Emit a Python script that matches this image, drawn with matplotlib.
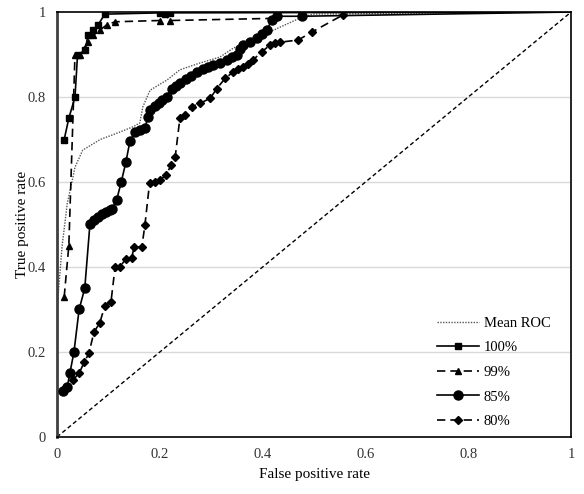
import matplotlib
matplotlib.use("Agg")
import matplotlib.pyplot as plt

plt.rcParams['font.family'] = ['Liberation Serif', 'DejaVu Serif']

mean_fpr = [0.0, 0.01, 0.02, 0.029, 0.035, 0.05, 0.084, 0.117, 0.148, 0.161, 0.167, 0.181, 0.214, 0.239,
            0.278, 0.317, 0.343, 0.375, 0.408, 0.473, 0.498, 1.0]
mean_tpr = [0.3, 0.45, 0.55, 0.6, 0.635, 0.675, 0.7, 0.715, 0.73, 0.739, 0.777, 0.816, 0.84, 0.864,
            0.88, 0.894, 0.915, 0.934, 0.95, 0.986, 0.995, 1.0]

r100_fpr = [0.014, 0.023, 0.035, 0.04, 0.055, 0.06, 0.07, 0.08, 0.093, 0.2, 0.21, 0.22, 1.0]
r100_tpr = [0.70, 0.75, 0.80, 0.90, 0.91, 0.945, 0.957, 0.97, 0.995, 0.998, 0.998, 0.998, 1.0]

r99_fpr = [0.014, 0.023, 0.035, 0.045, 0.06, 0.07, 0.083, 0.097, 0.113, 0.2, 0.21, 0.22, 0.42, 1.0]
r99_tpr = [0.33, 0.45, 0.90, 0.90, 0.93, 0.945, 0.957, 0.97, 0.977, 0.98, 0.995, 0.98, 0.985, 1.0]

r85_fpr = [0.012, 0.02, 0.025, 0.033, 0.043, 0.054, 0.064, 0.072, 0.08, 0.088, 0.096, 0.104, 0.107,
           0.116, 0.125, 0.134, 0.142, 0.152, 0.162, 0.171, 0.177, 0.181, 0.19, 0.198, 0.204, 0.213,
           0.224, 0.232, 0.239, 0.25, 0.26, 0.272, 0.283, 0.294, 0.304, 0.317, 0.33, 0.34, 0.35,
           0.356, 0.362, 0.375, 0.389, 0.398, 0.408, 0.418, 0.428, 0.477, 1.0]
r85_tpr = [0.108, 0.118, 0.15, 0.20, 0.30, 0.35, 0.50, 0.51, 0.518, 0.524, 0.53, 0.534, 0.536,
           0.558, 0.60, 0.647, 0.697, 0.718, 0.722, 0.727, 0.753, 0.77, 0.78, 0.787, 0.793, 0.80,
           0.82, 0.826, 0.833, 0.842, 0.85, 0.859, 0.865, 0.87, 0.875, 0.881, 0.887, 0.893, 0.90,
           0.912, 0.922, 0.93, 0.939, 0.948, 0.958, 0.981, 0.99, 0.99, 1.0]

r80_fpr = [0.012, 0.031, 0.043, 0.053, 0.062, 0.072, 0.083, 0.093, 0.105, 0.113, 0.122, 0.134, 0.145,
           0.15, 0.165, 0.171, 0.18, 0.19, 0.2, 0.212, 0.222, 0.23, 0.239, 0.249, 0.262, 0.278, 0.298,
           0.311, 0.327, 0.343, 0.353, 0.362, 0.372, 0.381, 0.398, 0.414, 0.424, 0.434, 0.469, 0.496,
           0.556, 1.0]
r80_tpr = [0.11, 0.134, 0.15, 0.176, 0.197, 0.247, 0.268, 0.308, 0.318, 0.40, 0.40, 0.419, 0.42,
           0.447, 0.447, 0.499, 0.597, 0.60, 0.605, 0.616, 0.64, 0.66, 0.75, 0.758, 0.777, 0.785, 0.797,
           0.82, 0.844, 0.859, 0.865, 0.871, 0.878, 0.887, 0.906, 0.922, 0.926, 0.929, 0.934, 0.953,
           0.993, 1.0]

diag = [0.0, 1.0]

xticks = [0, 0.2, 0.4, 0.6, 0.8, 1]
xticklabels = ['0', '0.2', '0.4', '0.6', '0.8', '1']
yticks = [0, 0.2, 0.4, 0.6, 0.8, 1]
yticklabels = ['0', '0.2', '0.4', '0.6', '0.8', '1']

fig = plt.figure(figsize=(5.84, 4.94), dpi=100)
ax = fig.add_axes([0.0976, 0.1154, 0.8804, 0.8603])

for y in yticks[1:-1]:
    ax.axhline(y, color='#d9d9d9', lw=1.0, zorder=0)

ax.plot(diag, diag, color='black', lw=1.0, ls=(0, (3, 2)), zorder=1)
ax.plot(mean_fpr, mean_tpr, color='#555555', lw=1.0, ls=(0, (1, 1)), label='Mean ROC', zorder=2)
ax.plot(r100_fpr[:-1], r100_tpr[:-1], color='black', lw=1.2, marker='s', ms=5, label='100%', zorder=3)
ax.plot(r100_fpr[-2:], r100_tpr[-2:], color='black', lw=1.2, zorder=3)
ax.plot(r99_fpr[:-1], r99_tpr[:-1], color='black', lw=1.2, ls=(0, (5, 3)), marker='^', ms=5, label='99%', zorder=3)
ax.plot(r85_fpr[:-1], r85_tpr[:-1], color='black', lw=1.2, marker='o', ms=6.5, label='85%', zorder=3)
ax.plot(r85_fpr[-2:], r85_tpr[-2:], color='black', lw=1.2, zorder=3)
ax.plot(r80_fpr[:-1], r80_tpr[:-1], color='black', lw=1.2, ls=(0, (5, 3)), marker='D', ms=4, label='80%', zorder=3)

ax.set_xlim(0, 1)
ax.set_ylim(0, 1)
ax.set_xticks(xticks)
ax.set_xticklabels(xticklabels)
ax.set_yticks(yticks)
ax.set_yticklabels(yticklabels)
ax.tick_params(length=0, labelsize=10.5, colors='#333333', pad=8)
for s in ax.spines.values():
    s.set_color('black')
    s.set_linewidth(1.2)
ax.spines['left'].set_color('#404040')
ax.spines['left'].set_linewidth(2)

ax.set_xlabel('False positive rate', fontsize=11, labelpad=5)
ax.set_ylabel('True positive rate', fontsize=11)
ax.yaxis.set_label_coords(-0.055, 0.5)

leg = ax.legend(loc='lower right', frameon=False, fontsize=10.5, handlelength=2.9,
                labelspacing=0.78, bbox_to_anchor=(0.985, -0.01), handletextpad=0.3)

fig.savefig('out.png', dpi=100)
